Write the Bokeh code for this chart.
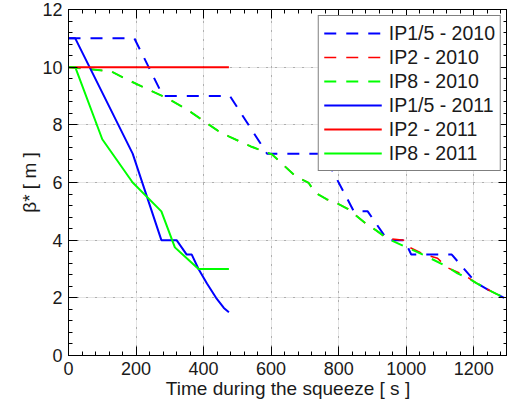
from bokeh.plotting import figure
from bokeh.models import Range1d, LinearAxis, SingleIntervalTicker, Legend, LegendItem, Grid, Title
from bokeh.embed import file_html
from bokeh.resources import INLINE

# ---- data ----
t_ip15_2010 = [0, 195, 280, 478, 588, 755, 845, 886, 945, 995, 1015, 1135, 1190, 1208, 1243, 1290]
b_ip15_2010 = [11, 11, 9, 9, 7, 7, 5, 5, 4, 4, 3.5, 3.5, 2.75, 2.51, 2.28, 2.0]

t_ip2_2010 = [0, 125, 170, 230, 296, 354, 413, 442, 476, 540, 603, 672, 711, 730, 764, 800, 828, 852, 881,
              911, 945, 995, 1010, 1052, 1093, 1121, 1170, 1208, 1243, 1290]
b_ip2_2010 = [10, 9.86, 9.59, 9.26, 8.9, 8.51, 8.03, 7.8, 7.59, 7.25, 6.97, 6.22, 5.99, 5.65, 5.42, 5.25, 5.08, 4.85, 4.57,
              4.34, 4.05, 4.0, 3.75, 3.51, 3.37, 3.05, 2.8, 2.51, 2.28, 2.0]

t_ip8_2010 = [0, 125, 170, 230, 296, 354, 413, 442, 476, 540, 603, 672, 711, 730, 764, 800, 828, 852, 881,
              911, 945, 998, 1062, 1121, 1152, 1184, 1208, 1243, 1290]
b_ip8_2010 = [10, 9.86, 9.59, 9.26, 8.9, 8.51, 8.03, 7.8, 7.59, 7.25, 6.97, 6.22, 5.99, 5.65, 5.42, 5.25, 5.08, 4.85, 4.57,
              4.34, 4.05, 3.77, 3.43, 3.08, 2.85, 2.68, 2.51, 2.28, 2.0]

t_ip15_2011 = [0, 20, 190, 275, 320, 350, 365, 385, 410, 437, 460, 475]
b_ip15_2011 = [11, 11, 7, 4, 4, 3.5, 3.5, 3.0, 2.5, 2.0, 1.65, 1.5]

t_ip2_2011 = [0, 475]
b_ip2_2011 = [10, 10]

t_ip8_2011 = [0, 20, 100, 190, 275, 315, 385, 475]
b_ip8_2011 = [10, 10, 7.5, 6, 5, 3.75, 3.0, 3.0]

labels = ["IP1/5 - 2010", "IP2 - 2010", "IP8 - 2010", "IP1/5 - 2011", "IP2 - 2011", "IP8 - 2011"]
x_title = "Time during the squeeze [ s ]"
y_title = "β* [ m ]"

FONT = "Liberation Sans"

p = figure(width=507, height=403, x_range=Range1d(0, 1300), y_range=Range1d(0, 12),
           output_backend="svg", toolbar_location=None,
           x_axis_location=None, y_axis_location=None,
           min_border_left=68, min_border_right=0, min_border_top=9, min_border_bottom=48)
p.outline_line_color = "black"
p.outline_line_width = 1
p.background_fill_color = "white"
p.border_fill_color = "white"

xt = SingleIntervalTicker(interval=200, num_minor_ticks=5)
yt = SingleIntervalTicker(interval=2, num_minor_ticks=5)


def style_axis(ax, show_labels):
    ax.axis_line_color = "black"
    ax.axis_line_width = 1
    ax.major_tick_in = 9
    ax.major_tick_out = 0
    ax.minor_tick_in = 4
    ax.minor_tick_out = 0
    ax.major_tick_line_color = "black"
    ax.minor_tick_line_color = "black"
    ax.major_tick_line_width = 1
    ax.minor_tick_line_width = 1
    if show_labels:
        ax.major_label_text_font = FONT
        ax.major_label_text_font_size = "18px"
        ax.major_label_text_color = "#1a1a1a"
    else:
        ax.major_label_text_font_size = "0px"
        ax.major_label_text_color = None
        ax.major_label_standoff = 0


bottom = LinearAxis(ticker=xt)
style_axis(bottom, True)
bottom.major_label_standoff = 6
left = LinearAxis(ticker=yt)
style_axis(left, True)
left.major_label_standoff = 6
top = LinearAxis(ticker=xt)
style_axis(top, False)
right = LinearAxis(ticker=yt)
style_axis(right, False)
p.add_layout(bottom, "below")
p.add_layout(left, "left")
p.add_layout(top, "above")
p.add_layout(right, "right")

p.add_layout(Title(text=x_title, align="center", vertical_align="top", text_font=FONT, text_font_size="19px",
                   text_font_style="normal", text_color="#1a1a1a", standoff=0), "below")
p.add_layout(Title(text=y_title, align="center", text_font=FONT, text_font_size="19px",
                   text_font_style="normal", text_color="#1a1a1a", standoff=0), "left")

for dim, tk in ((0, xt), (1, yt)):
    g = Grid(dimension=dim, ticker=tk, grid_line_color="#777777", grid_line_width=1, grid_line_dash="1 8")
    p.add_layout(g)

DASH = "12 10"
r1 = p.line(t_ip15_2010, b_ip15_2010, line_color="#0000ff", line_width=2, line_dash=DASH)
r2 = p.line(t_ip2_2010, b_ip2_2010, line_color="#ff0000", line_width=1.5, line_dash=DASH)
r3 = p.line(t_ip8_2010, b_ip8_2010, line_color="#00ff00", line_width=2, line_dash=DASH)
r4 = p.line(t_ip15_2011, b_ip15_2011, line_color="#0000ff", line_width=2)
r5 = p.line(t_ip2_2011, b_ip2_2011, line_color="#ff0000", line_width=2)
r6 = p.line(t_ip8_2011, b_ip8_2011, line_color="#00ff00", line_width=2)

legend = Legend(items=[LegendItem(label=lab, renderers=[r]) for lab, r in zip(labels, [r1, r2, r3, r4, r5, r6])],
                location="top_right", margin=6, padding=5, spacing=0,
                glyph_width=58, glyph_height=24, label_height=24, label_width=100, label_standoff=7,
                label_text_font=FONT, label_text_font_size="19.5px", label_text_color="#1a1a1a",
                border_line_color="black", border_line_width=1,
                background_fill_color="white", background_fill_alpha=1.0)
p.add_layout(legend)

open("out.html", "w").write(file_html(p, INLINE))
